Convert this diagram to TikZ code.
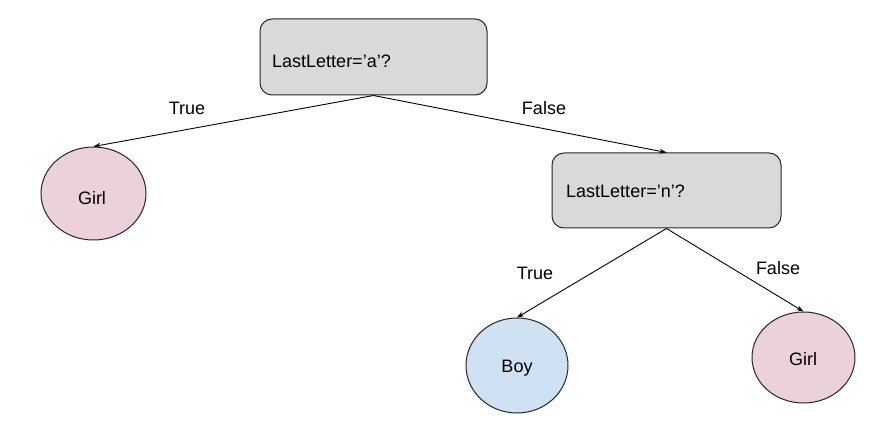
\documentclass[tikz,border=0pt]{standalone}
\usepackage{fontspec}
\setmainfont{Liberation Sans}
\usetikzlibrary{shapes.geometric,arrows.meta}
\definecolor{boxgray}{HTML}{D9D9D9}
\definecolor{girlpink}{HTML}{EAD1DC}
\definecolor{boyblue}{HTML}{CFE2F3}
\begin{document}
\begin{tikzpicture}[x=1pt,y=-1pt,
  every node/.style={font=\fontsize{18}{20}\selectfont},
  decbox/.style={draw=black!85, line width=1pt, fill=boxgray, rounded corners=12pt, inner sep=0pt},
  leaf/.style={ellipse, draw=black!85, line width=1pt, inner sep=0pt},
  txt/.style={inner sep=0pt},
  conn/.style={draw=black, line width=0.9pt, -{Stealth[length=7pt,width=5pt]}}
]
\useasboundingbox (0,0) rectangle (889,430);
% decision boxes
\node[decbox, minimum width=227pt, minimum height=76pt] (q1) at (373.5,57) {};
\node[txt, anchor=base west] (q1t) at (272,68) {LastLetter=’a’?};
\node[decbox, minimum width=229pt, minimum height=75pt] (q2) at (666.5,190.5) {};
\node[txt, anchor=base west] (q2t) at (566,198) {LastLetter=’n’?};
% leaves
\node[leaf, fill=girlpink, minimum width=105pt, minimum height=93pt] (g1) at (93.5,193.5) {};
\node[txt, anchor=base] (g1t) at (92,205) {Girl};
\node[leaf, fill=boyblue, minimum width=102pt, minimum height=95pt] (b1) at (517,365.5) {};
\node[txt, anchor=base] (b1t) at (517,373) {Boy};
\node[leaf, fill=girlpink, minimum width=103pt, minimum height=91pt] (g2) at (803.5,357.5) {};
\node[txt, anchor=base] (g2t) at (803,366) {Girl};
% connectors
\draw[conn] (q1.south) -- (g1.north);
\draw[conn] (q1.south) -- (q2.north);
\draw[conn] (q2.south) -- (b1.north);
\draw[conn] (q2.south) -- (g2.north);
% labels
\node[txt] (l1) at (187,108) {True};
\node[txt] (l2) at (544,108) {False};
\node[txt] (l3) at (535,273) {True};
\node[txt] (l4) at (778,268) {False};
\end{tikzpicture}
\end{document}
